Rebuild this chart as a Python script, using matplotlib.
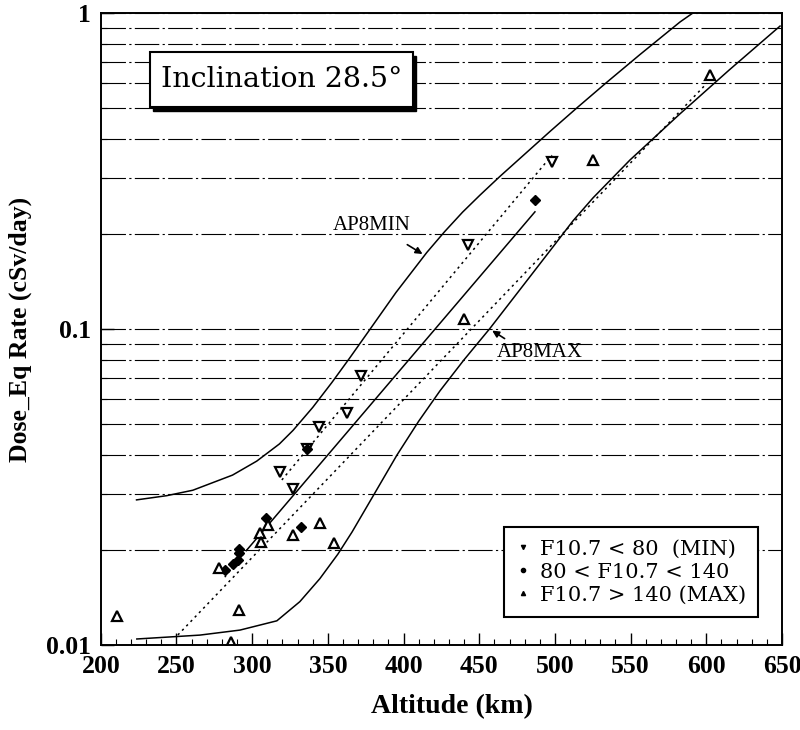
import matplotlib
matplotlib.use("Agg")
import matplotlib.pyplot as plt
from matplotlib.lines import Line2D
from matplotlib.patches import Rectangle
from matplotlib.ticker import FixedLocator, NullFormatter, MultipleLocator

plt.rcParams['font.family'] = ['Liberation Serif', 'DejaVu Serif']

# AP8 model curves (altitude km, dose cSv/day)
ap8min_alt = [223.6, 243.6, 260.8, 287, 303, 318, 327, 340, 352.6, 364.5, 377.8,
              395, 415.4, 427, 439, 450.5, 463.7, 483.5, 496.7, 514.5, 534, 556, 582.6, 591]
ap8min_dose = [0.0288, 0.0297, 0.0309, 0.0345, 0.0382, 0.0433, 0.0478, 0.0565, 0.0677,
               0.0811, 0.0998, 0.1306, 0.1749, 0.2031, 0.2345, 0.2655, 0.3044, 0.3703,
               0.422, 0.5013, 0.6027, 0.7383, 0.9374, 1.0]
ap8max_alt = [223.8, 265.4, 291.9, 316.3, 331.5, 344.7, 356.6, 366, 379.7, 395.6, 410,
              424, 440, 457, 478.9, 498.7, 511.9, 525.1, 549.6, 582.6, 615, 648.7]
ap8max_dose = [0.01045, 0.01075, 0.01115, 0.01193, 0.01372, 0.01622, 0.01939, 0.0228,
               0.02953, 0.0399, 0.0511, 0.0637, 0.080, 0.1004, 0.1372, 0.182, 0.22, 0.26,
               0.343, 0.48, 0.66, 0.91]

# fitted lines
mid_fit_alt = [296.5, 486.8]
mid_fit_dose = [0.020, 0.235]
mid_ext_alt = [281.9, 296.5]
mid_ext_dose = [0.0164, 0.020]
min_fit_alt = [319.6, 498]
min_fit_dose = [0.0333, 0.355]
max_fit_alt = [250.9, 600.4]
max_fit_dose = [0.01076, 0.600]

# measurements
min_alt = [498, 442.5, 371.8, 362.6, 344, 336, 318.3, 326.9]
min_dose = [0.338, 0.184, 0.071, 0.0542, 0.049, 0.0417, 0.0353, 0.0312]
mid_alt = [486.8, 336, 309, 332, 282, 287.2, 290.5, 291.2, 291.2]
mid_dose = [0.256, 0.0417, 0.0252, 0.0236, 0.0173, 0.0180, 0.0186, 0.0195, 0.0202]
max_alt = [602.5, 525, 439.9, 344.7, 354, 326.9, 305.1, 305.7, 310.4, 278, 291.2, 210.6, 286]
max_dose = [0.637, 0.343, 0.108, 0.0243, 0.0210, 0.0223, 0.0226, 0.0212, 0.0240, 0.0175,
            0.0129, 0.0124, 0.0102]

legend_labels = ["F10.7 < 80  (MIN)", "80 < F10.7 < 140", "F10.7 > 140 (MAX)"]

fig = plt.figure(figsize=(8, 7.3), dpi=100)
ax = fig.add_axes([0.126, 0.1164, 0.8515, 0.8656])
ax.set_yscale('log')
ax.set_xlim(200, 650)
ax.set_ylim(0.01, 1)

dots = (0, (1.5, 2.5))
ax.plot(ap8min_alt, ap8min_dose, color='black', lw=1.1)
ax.plot(ap8max_alt, ap8max_dose, color='black', lw=1.1)
ax.plot(mid_fit_alt, mid_fit_dose, color='black', lw=1.1)
ax.plot(mid_ext_alt, mid_ext_dose, color='black', lw=1.0, ls=dots)
ax.plot(min_fit_alt, min_fit_dose, color='black', lw=1.1, ls=dots)
ax.plot(max_fit_alt, max_fit_dose, color='black', lw=1.1, ls=dots)

ax.plot(min_alt, min_dose, ls='none', marker='v', ms=7, mfc='white', mec='black', mew=1.6)
ax.plot(mid_alt, mid_dose, ls='none', marker='D', ms=5, mfc='black', mec='black')
ax.plot(max_alt, max_dose, ls='none', marker='^', ms=7, mfc='white', mec='black', mew=1.6)

# ticks and grid
ax.yaxis.set_minor_locator(FixedLocator([m * 10.0 ** e for e in (-2, -1) for m in range(2, 10)]))
ax.yaxis.set_minor_formatter(NullFormatter())
ax.set_yticks([0.01, 0.1, 1])
ax.set_yticklabels(["0.01", "0.1", "1"])
ax.xaxis.set_major_locator(MultipleLocator(50))
ax.xaxis.set_minor_locator(MultipleLocator(10))
ax.grid(True, axis='y', which='both', color='black', lw=0.8, ls=(0, (22, 3, 2, 3)))
ax.tick_params(which='both', direction='in', top=False, right=False)
ax.tick_params(which='major', length=9, width=1.0, labelsize=18.5, pad=7)
ax.tick_params(which='minor', length=4, width=0.8)
for lab in ax.get_xticklabels() + ax.get_yticklabels():
    lab.set_fontweight('bold')
for s in ax.spines.values():
    s.set_linewidth(1.4)

ax.set_xlabel("Altitude (km)", fontsize=20, fontweight='bold')
ax.xaxis.set_label_coords(0.515, -0.078)
ax.set_ylabel("Dose_Eq Rate (cSv/day)", fontsize=18.5, fontweight='bold', labelpad=10)

# curve labels
ax.text(353.3, 0.212, "AP8MIN", fontsize=15, va='center', ha='left')
ax.annotate("", xy=(414.1, 0.171), xytext=(400.9, 0.187),
            arrowprops=dict(arrowstyle='-|>', color='black', lw=1.2, mutation_scale=10))
ax.text(461.7, 0.0846, "AP8MAX", fontsize=15, va='center', ha='left')
ax.annotate("", xy=(457, 0.1), xytext=(468.3, 0.0923),
            arrowprops=dict(arrowstyle='-|>', color='black', lw=1.2, mutation_scale=10))

# inclination box with shadow
x0, x1, y0, y1 = 0.072, 0.458, 0.851, 0.938
ax.add_patch(Rectangle((x0 + 0.005, y0 - 0.006), x1 - x0, y1 - y0, transform=ax.transAxes,
                       facecolor='black', edgecolor='black', zorder=5))
ax.add_patch(Rectangle((x0, y0), x1 - x0, y1 - y0, transform=ax.transAxes,
                       facecolor='white', edgecolor='black', lw=1.5, zorder=6))
ax.text((x0 + x1) / 2, (y0 + y1) / 2, "Inclination 28.5°", transform=ax.transAxes,
        fontsize=20.5, family=['DejaVu Serif'], ha='center', va='center', zorder=7)

handles = [Line2D([], [], ls='none', marker='v', ms=3, mfc='black', mec='black'),
           Line2D([], [], ls='none', marker='o', ms=3, mfc='black', mec='black'),
           Line2D([], [], ls='none', marker='^', ms=3, mfc='black', mec='black')]
leg = ax.legend(handles, legend_labels, loc='lower right', bbox_to_anchor=(0.965, 0.044),
                prop={'family': ['DejaVu Serif'], 'size': 15}, borderaxespad=0,
                frameon=True, fancybox=False, edgecolor='black',
                handlelength=0.6, handletextpad=0.5, labelspacing=0.2, borderpad=0.6)
leg.get_frame().set_linewidth(1.5)
leg.get_frame().set_alpha(1)

fig.savefig("out.png", dpi=100)
